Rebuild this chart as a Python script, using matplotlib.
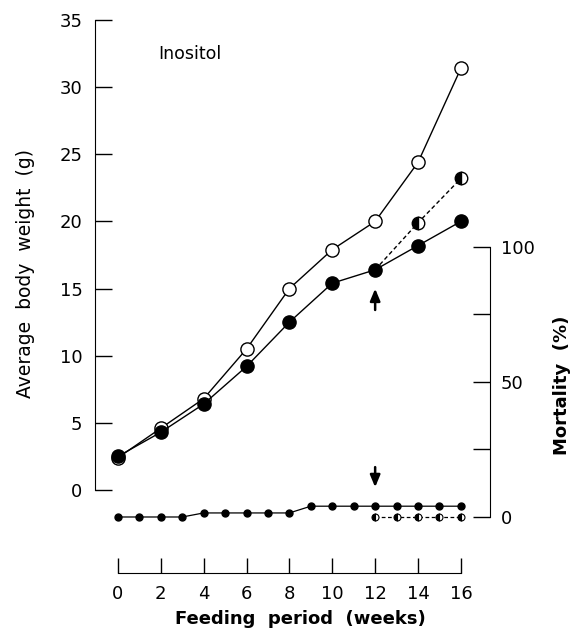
import numpy as np
import matplotlib
matplotlib.use("Agg")
import matplotlib.pyplot as plt

plt.rcParams['font.family'] = ['DejaVu Sans']

# body weight (g)
weeks = [0, 2, 4, 6, 8, 10, 12, 14, 16]
weight_open = [2.4, 4.6, 6.8, 10.5, 15.0, 17.9, 20.0, 24.4, 31.4]
weight_filled = [2.5, 4.3, 6.4, 9.2, 12.5, 15.4, 16.4, 18.2, 20.0]
weeks_half = [12, 14, 16]
weight_half = [16.4, 19.9, 23.2]

# mortality (%)
mort_weeks = list(range(0, 17))
mort_filled = [0, 0, 0, 0, 1.5, 1.5, 1.5, 1.5, 1.5, 4, 4, 4, 4, 4, 4, 4, 4]
mort_half_weeks = [12, 13, 14, 15, 16]
mort_half = [0, 0, 0, 0, 0]

fig = plt.figure(figsize=(5.79, 6.33), dpi=100)
ax = fig.add_axes([0.164, 0.0948, 0.682, 0.8736])
ax2 = ax.twinx()

ax.set_xlim(-1.07, 17.35)
ax.set_ylim(-6.18, 35)
ax2.set_ylim(-20.74, 184.07)

# weight curves
ax.plot(weeks, weight_open, '-', color='black', lw=1.0, marker='o', ms=9.5,
        mfc='white', mec='black', mew=1.0, zorder=3)
ax.plot(weeks_half, weight_half, '--', color='black', lw=1.0, dashes=(3, 2), zorder=2)
ax.plot(weeks_half[1:], weight_half[1:], ls='none', marker='o', ms=9,
        fillstyle='left', mfc='black', mfcalt='white', mec='black', mew=1.0, zorder=4)
ax.plot(weeks, weight_filled, '-', color='black', lw=1.0, marker='o', ms=9.5,
        mfc='black', mec='black', zorder=3)

# mortality curves
ax2.plot(mort_weeks, mort_filled, '-', color='black', lw=0.9, marker='o', ms=5,
         mfc='black', mec='black')
ax2.plot(mort_half_weeks, mort_half, '--', color='black', lw=0.9, dashes=(3, 2),
         marker='o', ms=5, fillstyle='left', mfc='black', mfcalt='white', mec='black', mew=0.8)

# arrows at week 12
ax.annotate('', xy=(12, 15.2), xytext=(12, 13.2),
            arrowprops=dict(arrowstyle='-|>,head_length=0.6,head_width=0.25',
                            color='black', lw=1.8, mutation_scale=12))
ax2.annotate('', xy=(12, 10), xytext=(12, 19.5),
             arrowprops=dict(arrowstyle='-|>,head_length=0.6,head_width=0.25',
                             color='black', lw=1.8, mutation_scale=12))

ax.text(1.87, 32.5, 'Inositol', fontsize=12.5, va='center')

# spines
for a in (ax, ax2):
    a.spines['top'].set_visible(False)
ax.spines['right'].set_visible(False)
ax2.spines['left'].set_visible(False)
ax2.spines['bottom'].set_visible(False)
ax.spines['left'].set_bounds(0, 35)
ax.spines['bottom'].set_bounds(0, 16)
ax2.spines['right'].set_bounds(0, 100)

ax.set_yticks(np.arange(0, 36, 5))
ax.set_xticks(np.arange(0, 17, 2))
ax2.set_yticks([0, 50, 100])
ax2.set_yticks([25, 75], minor=True)

ax.tick_params(axis='y', direction='in', length=12, width=1, labelsize=13, pad=9)
ax.tick_params(axis='x', direction='in', length=11, width=1, labelsize=13, pad=9)
ax2.tick_params(axis='y', which='both', direction='in', length=12, width=1, labelsize=13, pad=8)

ax.set_xlabel('Feeding  period  (weeks)', fontsize=13, fontweight='bold')
ax.set_ylabel('Average  body  weight  (g)', fontsize=13.5)
ax2.set_ylabel('Mortality  (%)', fontsize=13, fontweight='bold')
ax.xaxis.set_label_coords(0.52, -0.067)
ax.yaxis.set_label_coords(-0.152, 0.542)
ax2.yaxis.set_label_coords(1.16, 0.34)

fig.savefig('out.png', dpi=100)
